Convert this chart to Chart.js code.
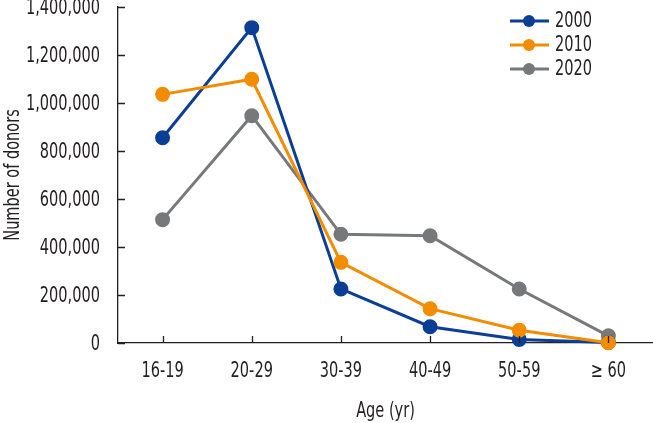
<!DOCTYPE html>
<html>
<head>
<meta charset="utf-8">
<script src="https://cdn.jsdelivr.net/npm/chart.js@4.4.1/dist/chart.umd.min.js"></script>
<style>
  html, body { margin: 0; padding: 0; background: #fff; }
  #wrap { width: 653px; height: 423px; position: relative; }
</style>
</head>
<body>
<div id="wrap"><canvas id="donorChart"></canvas></div>
<script>
// ── Data ─────────────────────────────────────────────────────────────
const AGE_GROUPS = ['16-19', '20-29', '30-39', '40-49', '50-59', '\u2265 60'];
const DONORS_2000 = [855000, 1314000, 225000, 68000, 15000, 2000];
const DONORS_2010 = [1036000, 1099000, 336000, 143000, 53000, 1000];
const DONORS_2020 = [514000, 947000, 453000, 447000, 225000, 30000];
const Y_TICKS = [0, 200000, 400000, 600000, 800000, 1000000, 1200000, 1400000];
const X_TITLE = 'Age (yr)';
const Y_TITLE = 'Number of donors';

const FONT = '21px "DejaVu Sans Condensed", "DejaVu Sans", sans-serif';
const NARROW = 0.77;   // squeeze text sideways to look like the condensed face of the original
const INK = '#231f20';

const series = [
  { label: '2000', data: DONORS_2000, color: '#0b3f96', order: 1 },
  { label: '2010', data: DONORS_2010, color: '#f28c00', order: 0 },
  { label: '2020', data: DONORS_2020, color: '#77787a', order: 2 },
];

function narrowText(ctx, text, x, y, align, rot) {
  ctx.save();
  ctx.translate(x, y);
  if (rot) ctx.rotate(rot);
  ctx.scale(NARROW, 1);
  ctx.textAlign = align;
  ctx.textBaseline = 'middle';
  ctx.fillText(text, 0, 0);
  ctx.restore();
}

// inward tick marks, labels and titles
const axisDeco = {
  id: 'axisDeco',
  afterDraw(chart) {
    const { ctx, chartArea: a, scales: { x, y } } = chart;
    ctx.save();
    ctx.strokeStyle = INK;
    ctx.lineWidth = 1.3;
    ctx.beginPath();
    y.ticks.forEach((t, i) => {
      const py = Math.round(y.getPixelForTick(i)) + 0.5;
      ctx.moveTo(a.left, py); ctx.lineTo(a.left + 7, py);
    });
    x.ticks.forEach((t, i) => {
      const px = Math.round(x.getPixelForTick(i)) + 0.5;
      ctx.moveTo(px, a.bottom); ctx.lineTo(px, a.bottom - 7);
    });
    ctx.stroke();

    ctx.fillStyle = INK;
    ctx.font = FONT;
    y.ticks.forEach((t, i) => {
      narrowText(ctx, t.value.toLocaleString('en-US'), a.left - 18, y.getPixelForTick(i) + 2, 'right');
    });
    x.ticks.forEach((t, i) => {
      narrowText(ctx, AGE_GROUPS[i], x.getPixelForTick(i), a.bottom + 29, 'center');
    });
    narrowText(ctx, X_TITLE, (a.left + a.right) / 2, a.bottom + 69, 'center');
    narrowText(ctx, Y_TITLE, 14, (a.top + a.bottom) / 2, 'center', -Math.PI / 2);
    ctx.restore();
  }
};

// line + dot legend, top right
const lineLegend = {
  id: 'lineLegend',
  afterDraw(chart) {
    const ctx = chart.ctx;
    ctx.save();
    ctx.font = FONT;
    series.forEach((s, i) => {
      const yy = 21 + i * 24;
      ctx.strokeStyle = s.color;
      ctx.lineWidth = 3;
      ctx.beginPath(); ctx.moveTo(510, yy); ctx.lineTo(549, yy); ctx.stroke();
      ctx.fillStyle = s.color;
      ctx.beginPath(); ctx.arc(529, yy, 6, 0, Math.PI * 2); ctx.fill();
      ctx.fillStyle = INK;
      narrowText(ctx, s.label, 555, yy + 1, 'left');
    });
    ctx.restore();
  }
};

new Chart(document.getElementById('donorChart'), {
  type: 'line',
  data: {
    labels: AGE_GROUPS,
    datasets: series.map(s => ({
      label: s.label, data: s.data, order: s.order,
      borderColor: s.color, backgroundColor: s.color,
      pointBackgroundColor: s.color, pointBorderColor: s.color,
      borderWidth: 3, pointRadius: 6, pointHoverRadius: 6, tension: 0, clip: false,
    }))
  },
  options: {
    responsive: true,
    maintainAspectRatio: false,
    animation: false,
    layout: { autoPadding: false, padding: { top: 7, right: 0, left: 0, bottom: 0 } },
    plugins: { legend: { display: false }, tooltip: { enabled: false } },
    scales: {
      x: {
        offset: true,
        grid: { display: false, drawTicks: false },
        border: { display: true, color: INK, width: 1.3 },
        ticks: { display: false },
        afterFit: s => { s.height = 80; },
      },
      y: {
        min: 0, max: 1400000,
        afterBuildTicks: s => { s.ticks = Y_TICKS.map(v => ({ value: v })); },
        grid: { display: false, drawTicks: false },
        border: { display: true, color: INK, width: 1.3 },
        ticks: { display: false },
        afterFit: s => { s.width = 118; },
      }
    }
  },
  plugins: [axisDeco, lineLegend]
});
</script>
</body>
</html>
